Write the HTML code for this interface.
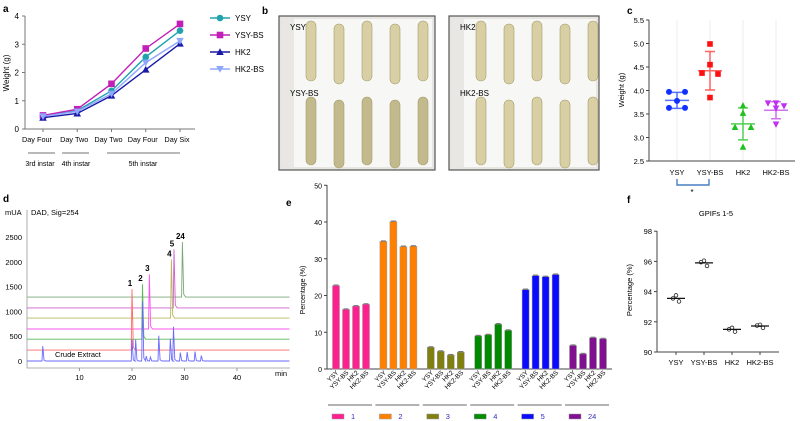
<!DOCTYPE html>
<html><head><meta charset="utf-8"><style>
html,body{margin:0;padding:0;background:#fff}
svg{display:block;font-family:"Liberation Sans",Arial,sans-serif}
</style></head><body>
<svg id="fig" width="800" height="421" viewBox="0 0 800 421" xmlns="http://www.w3.org/2000/svg">
<text x="3" y="12" font-size="10" font-weight="bold">a</text>
<text x="262" y="14" font-size="10" font-weight="bold">b</text>
<text x="627" y="14" font-size="10" font-weight="bold">c</text>
<text x="3" y="202" font-size="10" font-weight="bold">d</text>
<text x="286" y="206" font-size="10" font-weight="bold">e</text>
<text x="627" y="203" font-size="10" font-weight="bold">f</text>
<g id="ga"></g>
<g id="gb"></g>
<g id="gc"></g>
<g id="gd"></g>
<g id="ge"></g>
<g id="gf"></g>
</svg>
<script>
// ---- Panel a data
const aStages = ['Day Four','Day Two','Day Two','Day Four','Day Six'];
const aYSY = [0.45,0.65,1.35,2.55,3.48];
const aYSYBS = [0.48,0.70,1.60,2.85,3.72];
const aHK2 = [0.40,0.55,1.18,2.10,3.02];
const aHK2BS = [0.45,0.62,1.25,2.35,3.12];
const aTicks = [0,1,2,3,4];
// ---- Panel c data
const cGroups = ['YSY','YSY-BS','HK2','HK2-BS'];
const cPts = [[3.97,3.97,3.78,3.63,3.63],[4.99,4.55,4.37,4.35,3.85],[3.68,3.52,3.22,3.22,2.80],[3.73,3.73,3.67,3.62,3.28]];
const cMean = [3.79,4.42,3.29,3.58];
const cSD = [0.17,0.41,0.34,0.18];
const cTicks = [2.5,3.0,3.5,4.0,4.5,5.0,5.5];
// ---- Panel d data
const dBase = [0,220,440,645,865,1070,1290];
const dPeakTime = [null,20.0,22.0,23.3,27.5,28.0,29.6];
const dPeakHeight = [null,1450,1550,1750,2050,2250,2400];
const dPeakLabel = [null,'1','2','3','4','5','24'];
const dCrudeTimes = [3.0,20.0,20.7,22.0,22.7,23.5,25.1,27.3,27.9,29.2,30.5,32.0,33.2];
const dCrudeHeights = [300,430,430,1200,100,80,510,450,690,170,180,190,110];
const dYTicks = [0,500,1000,1500,2000,2500];
const dXTicks = [10,20,30,40];
// ---- Panel e data
const eCats = ['YSY','YSY-BS','HK2','HK2-BS'];
const eCompounds = ['1','2','3','4','5','24'];
const eVals = [[22.7,16.2,17.1,17.6],[34.7,40.1,33.3,33.4],[5.9,4.8,3.8,4.6],[9.0,9.3,12.2,10.5],[21.6,25.4,25.1,25.7],[6.4,4.1,8.5,8.2]];
const eTicks = [0,10,20,30,40];
// ---- Panel f data
const fCats = ['YSY','YSY-BS','HK2','HK2-BS'];
const fPts = [[93.75,93.55,93.35],[96.05,95.95,95.7],[91.6,91.5,91.35],[91.8,91.75,91.6]];
const fMean = [93.55,95.9,91.5,91.72];
const fTicks = [90,92,94,96,98];

const NS='http://www.w3.org/2000/svg';
function mk(tag,attrs,parent,txt){const e=document.createElementNS(NS,tag);for(const k in attrs)e.setAttribute(k,attrs[k]);if(txt!==undefined)e.textContent=txt;parent.appendChild(e);return e;}
let el;

// ===== Panel a
(function(){
const g=document.getElementById('ga');
const X=i=>43+i*34.25, Y=v=>129-v*28.25;
el=mk('path',{d:'M25 16 V129 H195',fill:'none',stroke:'#777','stroke-width':1},g);


aTicks.forEach(t=>{
 el=mk('line',{x1:22,x2:25,y1:Y(t),y2:Y(t),stroke:'#777'},g);
 
 
 el=mk('text',{x:19,y:Y(t)+3,'font-size':8,'text-anchor':'end'},g,t);
 
 
});
el=mk('text',{x:9,y:73,'font-size':8,'text-anchor':'middle',transform:'rotate(-90 9 73)'},g,'Weight (g)');


aStages.forEach((s,i)=>{
 el=mk('line',{x1:X(i),x2:X(i),y1:129,y2:132,stroke:'#777'},g);
 
 
 el=mk('text',{x:X(i)-3+ (i==0?-3:0),y:142,'font-size':7.3,'text-anchor':'middle'},g,s);
 
 
});
[[28,55,'3rd instar',40],[62,89,'4th instar',76],[107,180,'5th instar',143]].forEach(r=>{
 el=mk('line',{x1:r[0],x2:r[1],y1:153,y2:153,stroke:'#444','stroke-width':0.8},g);
 
 
 el=mk('text',{x:r[3],y:166,'font-size':7,'text-anchor':'middle'},g,r[2]);
 
 
});
const series=[['YSY',aYSY,'#1fa3ad','circle'],['YSY-BS',aYSYBS,'#c21fb8','square'],['HK2',aHK2,'#1a1aa8','tri'],['HK2-BS',aHK2BS,'#8fa8ff','itri']];
function marker(type,x,y,c,p){
 if(type=='circle')return mk('circle',{cx:x,cy:y,r:3.3,fill:c},p);
 if(type=='square')return mk('rect',{x:x-3.3,y:y-3.3,width:6.6,height:6.6,fill:c},p);
 if(type=='tri')return mk('path',{d:`M${x} ${y-3.8}L${x+3.8} ${y+3}L${x-3.8} ${y+3}Z`,fill:c},p);
 return mk('path',{d:`M${x} ${y+3.8}L${x+3.8} ${y-3}L${x-3.8} ${y-3}Z`,fill:c},p);
}
series.forEach((s,k)=>{
 el=mk('polyline',{points:s[1].map((v,i)=>X(i)+','+Y(v)).join(' '),fill:'none',stroke:s[2],'stroke-width':1.4},g);
 
 
 s[1].forEach((v,i)=>{
  el=marker(s[3],X(i),Y(v),s[2],g);
  
  
 });
 const ly=18+k*17;
 el=mk('line',{x1:210,x2:230,y1:ly,y2:ly,stroke:s[2],'stroke-width':1.4},g);
 
 
 el=marker(s[3],220,ly,s[2],g);
 
 
 el=mk('text',{x:235,y:ly+3,'font-size':8},g,s[0]);
 
 
});
})();

// ===== Panel b
(function(){
const g=document.getElementById('gb');
[[279,'YSY','YSY-BS'],[449,'HK2','HK2-BS']].forEach((p,pi)=>{
 const x0=p[0],w=pi?150:156;
 el=mk('rect',{x:x0,y:16,width:w,height:154,fill:'#e6e5e1',stroke:'#555','stroke-width':1.2},g);
 
 
 el=mk('rect',{x:x0+3,y:19,width:w-6,height:148,fill:'#f7f7f5'},g);
 
 
 el=mk('rect',{x:x0+3,y:19,width:12,height:148,fill:'#e8e7e3'},g);
 
 
 for(let r=0;r<2;r++){
  for(let i=0;i<5;i++){
   const cx=x0+32+i*28, top=(r?97:21)+(i%2)*3, h=r?68:60;
   el=mk('rect',{x:cx-5,y:top,width:10,height:h,rx:5,fill:r&&pi==0?'#c2b98d':'#d8d0a4',stroke:'#a59c6a','stroke-width':0.6},g);
   
   
  }
 }
 el=mk('text',{x:x0+11,y:30,'font-size':8},g,p[1]);
 
 
 el=mk('text',{x:x0+11,y:96,'font-size':8},g,p[2]);
 
 
});
})();

// ===== Panel c
(function(){
const g=document.getElementById('gc');
const X=i=>677+i*33, Y=v=>161-(v-2.5)*47;
const cols=['#1030ff','#ff1010','#20c020','#c030f0'], lc=['#5070ff','#ff6060','#50d050','#d070f0'];
cGroups.forEach((c,i)=>{
 el=mk('line',{x1:X(i),x2:X(i),y1:20,y2:161,stroke:'#eee'},g);
 
 
});
el=mk('path',{d:'M649 20 V161 H795',fill:'none',stroke:'#444'},g);


cTicks.forEach(t=>{
 el=mk('line',{x1:646,x2:649,y1:Y(t),y2:Y(t),stroke:'#444'},g);
 
 
 el=mk('text',{x:644,y:Y(t)+3,'font-size':7.5,'text-anchor':'end'},g,t.toFixed(1));
 
 
});
el=mk('text',{x:624,y:90,'font-size':7.5,'text-anchor':'middle',transform:'rotate(-90 624 90)'},g,'Weight (g)');


const jit=[[-8,8,0,-8,8],[0,0,-8,8,0],[0,0,-8,8,0],[-8,0,8,0,0]];
cGroups.forEach((c,i)=>{
 const x=X(i);
 el=mk('text',{x:x,y:175,'font-size':7.5,'text-anchor':'middle'},g,c);
 
 
 const m=cMean[i],s=cSD[i];
 el=mk('path',{d:`M${x} ${Y(m+s)}V${Y(m-s)}M${x-5} ${Y(m+s)}H${x+5}M${x-5} ${Y(m-s)}H${x+5}M${x-12} ${Y(m)}H${x+12}`,stroke:lc[i],'stroke-width':1.5,fill:'none'},g);
 
 
 cPts[i].forEach((v,j)=>{
  const px=x+jit[i][j],py=Y(v);let e;
  if(i==0)e=mk('circle',{cx:px,cy:py,r:3,fill:cols[i]},g);
  else if(i==1)e=mk('rect',{x:px-2.8,y:py-2.8,width:5.6,height:5.6,fill:cols[i]},g);
  else if(i==2)e=mk('path',{d:`M${px} ${py-3.5}L${px+3.3} ${py+2.8}L${px-3.3} ${py+2.8}Z`,fill:cols[i]},g);
  else e=mk('path',{d:`M${px} ${py+3.5}L${px+3.3} ${py-2.8}L${px-3.3} ${py-2.8}Z`,fill:cols[i]},g);
  
  
 });
});
el=mk('path',{d:'M677 179V185H709V179',fill:'none',stroke:'#4a7fc0','stroke-width':1.4},g);


el=mk('text',{x:692,y:195,'font-size':8,'text-anchor':'middle'},g,'*');


})();

// ===== Panel d
(function(){
const g=document.getElementById('gd');
const X=t=>27+t*5.25, Y=v=>361-v*0.0496;
el=mk('path',{d:'M27 210V368H290',fill:'none',stroke:'#999','stroke-width':0.8},g);


el=mk('text',{x:5,y:215,'font-size':7.5},g,'mUA');


el=mk('text',{x:31,y:215,'font-size':7.5},g,'DAD, Sig=254');


dYTicks.forEach(t=>{
 el=mk('text',{x:22,y:Y(t)+3,'font-size':7.5,'text-anchor':'end'},g,t);
 
 
});
dXTicks.forEach(t=>{
 el=mk('line',{x1:X(t),x2:X(t),y1:368,y2:371,stroke:'#999'},g);
 
 
 el=mk('text',{x:X(t),y:380,'font-size':7.5,'text-anchor':'middle'},g,t);
 
 
});
el=mk('text',{x:281,y:376,'font-size':7.5,'text-anchor':'middle'},g,'min');


const cols=['#6a6aff','#ff6a6a','#5ab85a','#ff55ee','#b8b860','#d060d0','#7aa87a'];
function peakPath(base,times,heights){
 let d=`M${X(0)} ${Y(base)}`;
 times.forEach((t,k)=>{d+=`L${X(t-0.15)} ${Y(base)}L${X(t)} ${Y(base+heights[k])}L${X(t+0.25)} ${Y(base+heights[k]*0.05)}L${X(t+0.6)} ${Y(base)}`;});
 d+=`L${X(50)} ${Y(base)}`;return d;
}
for(let k=6;k>=1;k--){
 el=mk('path',{d:peakPath(dBase[k],[dPeakTime[k]],[dPeakHeight[k]-dBase[k]]),fill:'none',stroke:cols[k],'stroke-width':0.9},g);
 
 
 el=mk('text',{x:X(dPeakTime[k])-2,y:Y(dPeakHeight[k])-3,'font-size':8,'font-weight':'bold','text-anchor':'middle'},g,dPeakLabel[k]);
 
 
}
el=mk('path',{d:peakPath(0,dCrudeTimes,dCrudeHeights),fill:'none',stroke:cols[0],'stroke-width':0.9},g);


el=mk('text',{x:55,y:357,'font-size':7.5},g,'Crude Extract');


})();

// ===== Panel e
(function(){
const g=document.getElementById('ge');
const Y=v=>369-v*3.675;
const X=(gi,ci)=>336+gi*47.4+ci*10;
const cols=['#ff2090','#ff8000','#808010','#008a00','#0a0aff','#801090'];
el=mk('path',{d:'M327 185V369H612',fill:'none',stroke:'#444'},g);


eTicks.concat([50]).forEach(t=>{
 el=mk('line',{x1:324,x2:327,y1:Y(t),y2:Y(t),stroke:'#444'},g);
 
 
 el=mk('text',{x:322,y:Y(t)+3,'font-size':7,'text-anchor':'end'},g,t);
 
 
});
el=mk('text',{x:305,y:290,'font-size':7,'text-anchor':'middle',transform:'rotate(-90 305 290)'},g,'Percentage (%)');


eCompounds.forEach((cmp,gi)=>{
 eVals[gi].forEach((v,ci)=>{
  const x=X(gi,ci);
  el=mk('rect',{x:x-3.5,y:Y(v),width:7,height:369-Y(v),fill:cols[gi],stroke:'#999','stroke-width':0.5},g);
  
  
  el=mk('line',{x1:x-2.5,x2:x+2.5,y1:Y(v)-0.5,y2:Y(v)-0.5,stroke:'#777','stroke-width':1.2},g);
  
  
  el=mk('text',{x:x+3,y:373,'font-size':6.5,'text-anchor':'end',transform:`rotate(-45 ${x+3} 373)`},g,eCats[ci]);
  
  
 });
 const x0=X(gi,0)-8,x1=X(gi,3)+6;
 el=mk('line',{x1:x0,x2:x1,y1:405,y2:405,stroke:'#666','stroke-width':1},g);
 
 
 const lx=X(gi,0)-1;
 el=mk('rect',{x:lx-3,y:414,width:12,height:5,fill:cols[gi],stroke:'#999','stroke-width':0.5},g);
 
 
 el=mk('text',{x:lx+16,y:419,'font-size':7.5,fill:'#3030c0'},g,cmp);
 
 
});
})();

// ===== Panel f
(function(){
const g=document.getElementById('gf');
const X=i=>676+i*28, Y=v=>352-(v-90)*15.1;
el=mk('text',{x:716,y:216,'font-size':7.5,'text-anchor':'middle'},g,'GPIFs 1-5');


el=mk('path',{d:'M657 231V352H779',fill:'none',stroke:'#444'},g);


fTicks.forEach(t=>{
 el=mk('line',{x1:654,x2:657,y1:Y(t),y2:Y(t),stroke:'#444'},g);
 
 
 el=mk('text',{x:652,y:Y(t)+3,'font-size':7.5,'text-anchor':'end'},g,t);
 
 
});
el=mk('text',{x:632,y:290,'font-size':7.5,'text-anchor':'middle',transform:'rotate(-90 632 290)'},g,'Percentage (%)');


const jit=[0,-3,3];
fCats.forEach((c,i)=>{
 const x=X(i);
 el=mk('line',{x1:x,x2:x,y1:352,y2:355,stroke:'#444'},g);
 
 
 el=mk('text',{x:x,y:365,'font-size':7.5,'text-anchor':'middle'},g,c);
 
 
 fPts[i].forEach((v,j)=>{
  el=mk('circle',{cx:x+jit[j],cy:Y(v),r:1.8,fill:'#fff',stroke:'#222','stroke-width':0.8},g);
  
  
 });
 el=mk('line',{x1:x-9,x2:x+9,y1:Y(fMean[i]),y2:Y(fMean[i]),stroke:'#111','stroke-width':1.2},g);
 
 
});
})();
</script>
</body></html>
